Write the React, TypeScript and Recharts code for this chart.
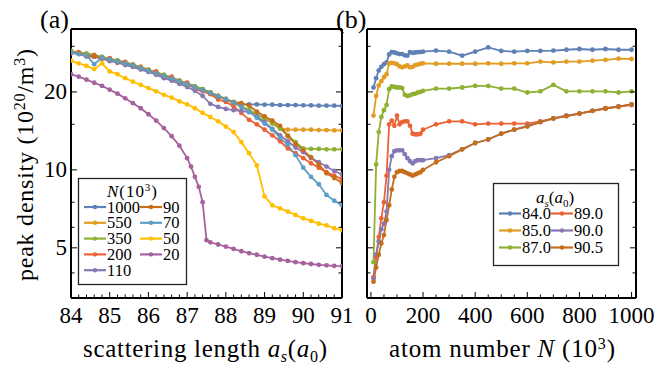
import { Line, LineChart, XAxis, YAxis } from 'recharts'

// panel (a): peak density (10^20/m^3) vs scattering length (a0), one curve per N
const scatLength = [
	84.0, 84.2, 84.4, 84.6, 84.8, 85.0, 85.2, 85.4, 85.6, 85.8, 86.0, 86.2, 86.4, 86.6, 86.8, 87.0, 87.2, 87.4,
	87.6, 87.8, 88.0, 88.2, 88.4, 88.6, 88.8, 89.0, 89.2, 89.4, 89.6, 89.8, 90.0, 90.2, 90.4, 90.6, 90.8, 91.0,
]
// the N = 20 run is sampled finer around its collapse
const scatLength20 = [
	84.0, 84.2, 84.4, 84.6, 84.8, 85.0, 85.2, 85.4, 85.6, 85.8, 86.0, 86.2, 86.4, 86.6, 86.8, 87.0, 87.1, 87.2,
	87.3, 87.4, 87.5, 87.6, 87.8, 88.0, 88.2, 88.4, 88.6, 88.8, 89.0, 89.2, 89.4, 89.6, 89.8, 90.0, 90.2, 90.4,
	90.6, 90.8, 91.0,
]
const n1000 = [
	28.6, 28.3, 28.0, 27.7, 27.3, 26.8, 26.4, 26.0, 25.5, 24.9, 24.3, 23.8, 23.2, 22.7, 22.1, 21.6, 21.0, 20.5,
	19.9, 19.3, 18.8, 18.2, 17.9, 17.9, 17.9, 17.85, 17.85, 17.8, 17.8, 17.8, 17.75, 17.75, 17.7, 17.7, 17.7, 17.65,
]
const n550 = [
	28.5, 28.2, 27.9, 27.5, 27.2, 26.7, 26.3, 25.8, 25.3, 24.8, 24.2, 23.7, 23.1, 22.5, 22.0, 21.4, 20.8, 20.3,
	19.8, 19.2, 18.7, 18.1, 17.6, 17.0, 16.4, 15.8, 15.2, 14.5, 14.3, 14.3, 14.3, 14.3, 14.25, 14.25, 14.2, 14.2,
]
const n350 = [
	28.8, 28.4, 28.2, 27.8, 27.3, 26.9, 26.5, 26.0, 25.5, 25.0, 24.4, 23.8, 23.3, 22.7, 22.1, 21.6, 21.0, 20.5,
	19.9, 19.3, 18.8, 18.2, 17.6, 17.0, 16.4, 15.8, 15.1, 14.4, 13.6, 12.8, 12.1, 12.05, 12.05, 12.0, 12.0, 12.0,
]
const n200 = [
	28.2, 28.5, 27.5, 27.7, 26.9, 27.0, 25.9, 26.1, 25.0, 25.0, 24.0, 24.0, 22.8, 22.9, 21.6, 21.7, 20.5, 20.1,
	19.6, 18.7, 18.3, 17.6, 16.6, 15.6, 15.0, 14.3, 13.6, 12.9, 12.1, 11.6, 11.1, 10.6, 10.2, 9.8, 9.5, 9.2,
]
const n110 = [
	28.3, 28.0, 27.4, 27.3, 26.9, 26.3, 26.0, 25.4, 25.0, 24.4, 23.9, 23.3, 22.6, 22.1, 21.5, 20.9, 20.2, 19.3,
	18.0, 17.5, 17.2, 17.0, 16.9, 16.7, 16.1, 15.3, 14.4, 13.6, 12.9, 12.2, 11.7, 11.1, 10.7, 10.3, 9.9, 9.6,
]
const n90 = [
	28.4, 28.1, 27.7, 27.4, 27.0, 26.6, 26.2, 25.8, 25.3, 24.7, 24.2, 23.6, 23.0, 22.5, 21.9, 21.3, 20.8, 20.3,
	19.7, 19.2, 18.7, 18.3, 18.1, 17.7, 16.8, 16.1, 15.5, 14.8, 13.5, 12.6, 11.9, 11.2, 10.5, 9.7, 9.3, 8.9,
]
const n70 = [
	28.4, 28.0, 27.7, 25.6, 27.1, 26.7, 26.2, 25.8, 25.3, 24.7, 24.1, 23.6, 23.0, 22.5, 21.9, 21.4, 20.8, 20.3,
	19.8, 19.2, 18.7, 18.2, 17.5, 16.8, 15.9, 15.1, 14.3, 13.3, 12.5, 11.4, 10.2, 9.4, 8.8, 8.0, 7.6, 7.3,
]
const n50 = [
	26.4, 25.8, 25.2, 24.5, 25.8, 24.0, 23.4, 22.6, 21.9, 21.3, 20.7, 20.1, 19.5, 19.0, 18.4, 17.9, 17.3, 16.6,
	16.0, 15.4, 14.7, 14.0, 12.8, 11.6, 10.4, 7.9, 7.3, 7.1, 6.9, 6.7, 6.5, 6.35, 6.2, 6.1, 5.95, 5.85,
]
const n20 = [
	23.4, 22.9, 22.3, 21.7, 21.1, 20.4, 19.7, 18.9, 18.1, 17.3, 16.4, 15.5, 14.5, 13.5, 12.4, 11.1, 10.3, 9.4,
	8.6, 7.5, 5.35, 5.25, 5.15, 5.05, 4.95, 4.85, 4.77, 4.7, 4.62, 4.56, 4.5, 4.45, 4.4, 4.36, 4.33, 4.3, 4.28,
	4.26, 4.25,
]

// panel (b): peak density vs atom number N (10^3), one curve per scattering length
const atomNumber = [
	10, 20, 30, 40, 50, 60, 70, 80, 90, 100, 110, 120, 130, 140, 150, 160, 170, 180, 190, 200, 250, 300, 350, 400,
	450, 500, 550, 600, 650, 700, 750, 800, 850, 900, 950, 1000,
]
const as840 = [
	20.8, 22.6, 24.2, 25.0, 25.6, 26.0, 27.9, 28.5, 28.4, 28.2, 28.0, 28.0, 27.7, 27.6, 28.5, 28.3, 28.4, 28.5,
	28.5, 28.6, 28.9, 28.6, 27.6, 28.6, 29.7, 28.8, 28.6, 28.8, 28.8, 28.9, 29.1, 29.3, 29.1, 29.3, 29.1, 29.1,
]
const as850 = [
	16.2, 19.3, 21.2, 22.0, 22.8, 23.4, 25.8, 25.9, 25.8, 25.6, 25.1, 24.9, 25.1, 25.3, 24.9, 25.0, 25.4, 25.5,
	25.7, 25.8, 25.7, 25.7, 25.7, 25.7, 25.8, 25.7, 25.8, 25.8, 26.2, 26.0, 26.2, 26.2, 26.4, 26.6, 26.9, 26.8,
]
const as870 = [
	4.4, 10.5, 14.0, 16.0, 17.0, 17.8, 20.5, 21.0, 20.9, 20.8, 20.8, 20.7, 19.5, 19.3, 19.4, 19.6, 19.7, 19.9,
	20.0, 20.2, 20.6, 20.6, 20.8, 21.1, 21.1, 20.6, 20.6, 19.9, 20.1, 21.3, 20.1, 20.1, 20.1, 20.1, 19.9, 20.1,
]
const as890 = [
	3.85, 4.6, 5.5, 6.5, 7.5, 9.5, 15.0, 15.5, 14.8, 16.2, 15.0, 15.3, 15.4, 15.4, 14.8, 13.8, 13.7, 13.7, 13.8,
	14.3, 15.0, 15.4, 15.4, 15.0, 15.1, 15.1, 15.1, 15.1, 15.4, 15.8, 16.2, 16.5, 16.9, 17.2, 17.6, 17.8,
]
const as900 = [
	3.8, 4.7, 5.3, 5.9, 6.2, 6.9, 10.0, 11.3, 11.8, 11.9, 11.9, 11.9, 11.5, 11.1, 10.8, 10.6, 10.8, 10.9, 10.9,
	10.9, 11.1, 11.4, 12.0, 12.7, 13.1, 13.8, 14.3, 14.8, 15.3, 15.8, 16.2, 16.5, 16.9, 17.3, 17.6, 17.9,
]
const as905 = [
	3.7, 4.2, 4.7, 5.2, 5.6, 6.4, 7.3, 8.4, 9.4, 9.8, 9.9, 9.9, 9.8, 9.7, 9.6, 9.5, 9.6, 9.7, 9.8, 10.0, 10.7,
	11.3, 12.0, 12.7, 13.1, 13.8, 14.3, 14.7, 15.3, 15.8, 16.1, 16.5, 16.9, 17.3, 17.5, 17.9,
]

const seriesA = [
	{ name: '1000', color: '#5E81B5', xs: scatLength, ys: n1000 },
	{ name: '550', color: '#E19C24', xs: scatLength, ys: n550 },
	{ name: '350', color: '#8FB032', xs: scatLength, ys: n350 },
	{ name: '200', color: '#EB6235', xs: scatLength, ys: n200 },
	{ name: '110', color: '#8778B3', xs: scatLength, ys: n110 },
	{ name: '90', color: '#C56E1A', xs: scatLength, ys: n90 },
	{ name: '70', color: '#5D9EC7', xs: scatLength, ys: n70 },
	{ name: '50', color: '#FFBF00', xs: scatLength, ys: n50 },
	{ name: '20', color: '#A5609D', xs: scatLength20, ys: n20 },
]
const seriesB = [
	{ name: '84.0', color: '#5E81B5', xs: atomNumber, ys: as840 },
	{ name: '85.0', color: '#E19C24', xs: atomNumber, ys: as850 },
	{ name: '87.0', color: '#8FB032', xs: atomNumber, ys: as870 },
	{ name: '89.0', color: '#EB6235', xs: atomNumber, ys: as890 },
	{ name: '90.0', color: '#8778B3', xs: atomNumber, ys: as900 },
	{ name: '90.5', color: '#C56E1A', xs: atomNumber, ys: as905 },
]

const xLabelsA = [84, 85, 86, 87, 88, 89, 90, 91]
const xLabelsB = [0, 200, 400, 600, 800, 1000]
const yLabels = [5, 10, 20]
const yTicks = [4, 5, 6, 7.5, 10, 15, 20, 30]
const xTicksA = Array.from({ length: 36 }, (_, i) => Math.round((84 + i * 0.2) * 10) / 10)
const xTicksB = Array.from({ length: 21 }, (_, i) => i * 50)

const FONT = "'Liberation Serif', 'Times New Roman', serif"
const frame = { stroke: '#000', strokeWidth: 2 }
const rows = (xs: number[], ys: number[]) => xs.map((x, i) => ({ x, y: ys[i] }))

type Side = 'bottom' | 'top' | 'left' | 'right'

// Mathematica-like frame ticks: pointing inward, labels only on majors
const frameTick = (side: Side, majors: number[], labels: boolean) => (props: any) => {
	const { x, y, payload } = props
	const v = payload.value
	const major = majors.some((m) => Math.abs(m - v) < 1e-6)
	const len = major ? 6 : 3.5
	let d = ''
	if (side === 'bottom') d = `M${x},${y}V${y - len}`
	if (side === 'top') d = `M${x},${y}V${y + len}`
	if (side === 'left') d = `M${x},${y}H${x + len}`
	if (side === 'right') d = `M${x},${y}H${x - len}`
	return (
		<g>
			<path d={d} stroke='#000' strokeWidth={1} />
			{labels && major && side === 'bottom' && (
				<text x={x} y={y + 25} textAnchor='middle' fontFamily={FONT} fontSize={23} fill='#000'>
					{v}
				</text>
			)}
			{labels && major && side === 'left' && (
				<text x={x - 4} y={y + 7.5} textAnchor='end' fontFamily={FONT} fontSize={23} fill='#000'>
					{v}
				</text>
			)}
		</g>
	)
}

const axisCommon = {
	type: 'number' as const,
	allowDataOverflow: true,
	interval: 0 as const,
	tickSize: 0,
	tickMargin: 0,
	tickLine: false,
	axisLine: frame,
}

const Panel = ({
	series,
	width,
	left,
	right,
	xDomain,
	xTicks,
	xLabels,
	showY,
}: {
	series: typeof seriesA
	width: number
	left: number
	right: number
	xDomain: number[]
	xTicks: number[]
	xLabels: number[]
	showY: boolean
}) => (
	<LineChart width={width} height={367} margin={{ top: 28, right, bottom: 0, left: 0 }}>
		<XAxis {...axisCommon} dataKey='x' domain={xDomain} ticks={xTicks} height={69} tick={frameTick('bottom', xLabels, true)} />
		<XAxis {...axisCommon} xAxisId='top' orientation='top' domain={xDomain} ticks={xTicks} height={1} tick={frameTick('top', xLabels, false)} />
		<YAxis {...axisCommon} scale='log' domain={[3.2, 35]} ticks={yTicks} width={left} tick={frameTick('left', yLabels, showY)} />
		<YAxis {...axisCommon} yAxisId='right' orientation='right' scale='log' domain={[3.2, 35]} ticks={yTicks} width={1} tick={frameTick('right', yLabels, false)} />
		{series.map((s) => (
			<Line
				key={s.name}
				data={rows(s.xs, s.ys)}
				dataKey='y'
				name={s.name}
				stroke={s.color}
				strokeWidth={1.8}
				dot={{ r: 2.4, fill: s.color, stroke: 'none' }}
				isAnimationActive={false}
			/>
		))}
	</LineChart>
)

const LegendItem = ({ x, y, color, text }: { x: number; y: number; color: string; text: string }) => (
	<g>
		<line x1={x} y1={y} x2={x + 22} y2={y} stroke={color} strokeWidth={2.2} />
		<circle cx={x + 11} cy={y} r={2.2} fill={color} />
		<text x={x + 23} y={y + 5.6} fontSize={16.5}>
			{text}
		</text>
	</g>
)

const Overlay = () => (
	<svg width={656} height={367} style={{ position: 'absolute', left: 0, top: 0, pointerEvents: 'none' }} fontFamily={FONT} fill='#000'>
		<text x={40} y={28} fontSize={26}>(a)</text>
		<text x={336} y={28} fontSize={26}>(b)</text>
		<text transform='translate(33,165) rotate(-90)' textAnchor='middle' fontSize={24} textLength={232} lengthAdjust='spacing'>
			peak density (10<tspan dy={-8} fontSize={16}>20</tspan>
			<tspan dy={8}>/m</tspan>
			<tspan dy={-8} fontSize={16}>3</tspan>
			<tspan dy={8}>)</tspan>
		</text>
		<text x={205} y={357} textAnchor='middle' fontSize={25} textLength={244} lengthAdjust='spacing'>
			scattering length <tspan fontStyle='italic'>a</tspan>
			<tspan dy={5} fontSize={16} fontStyle='italic'>s</tspan>
			<tspan dy={-5}>(</tspan>
			<tspan fontStyle='italic'>a</tspan>
			<tspan dy={5} fontSize={16}>0</tspan>
			<tspan dy={-5}>)</tspan>
		</text>
		<text x={502} y={357} textAnchor='middle' fontSize={25} textLength={226} lengthAdjust='spacing'>
			atom number <tspan fontStyle='italic'>N</tspan> (10<tspan dy={-8} fontSize={16}>3</tspan>
			<tspan dy={8}>)</tspan>
		</text>

		<rect x={78.5} y={178.5} width={108} height={106} fill='#fff' stroke='#222' strokeWidth={1.3} />
		<text x={132} y={197} textAnchor='middle' fontSize={17} textLength={50} lengthAdjust='spacing'>
			<tspan fontStyle='italic'>N</tspan>(10<tspan dy={-6} fontSize={11}>3</tspan>
			<tspan dy={6}>)</tspan>
		</text>
		{seriesA.map((s, i) => (
			<LegendItem key={s.name} x={i < 5 ? 84 : 140} y={207 + (i < 5 ? i : i - 5) * 15.8} color={s.color} text={s.name} />
		))}

		<rect x={493.5} y={183.5} width={125} height={82} fill='#fff' stroke='#222' strokeWidth={1.3} />
		<text x={555} y={203} textAnchor='middle' fontSize={17}>
			<tspan fontStyle='italic'>a</tspan>
			<tspan dy={4} fontSize={11} fontStyle='italic'>s</tspan>
			<tspan dy={-4}>(</tspan>
			<tspan fontStyle='italic'>a</tspan>
			<tspan dy={4} fontSize={11}>0</tspan>
			<tspan dy={-4}>)</tspan>
		</text>
		{seriesB.map((s, i) => (
			<LegendItem key={s.name} x={i < 3 ? 499 : 551} y={213.5 + (i < 3 ? i : i - 3) * 17} color={s.color} text={s.name} />
		))}
	</svg>
)

const App = () => {
	return (
		<div style={{ position: 'absolute', left: 0, top: 0, width: 656, height: 367, background: '#fff' }}>
			<div style={{ position: 'absolute', left: 0, top: 0 }}>
				<Panel series={seriesA} width={356} left={71} right={13} xDomain={[84, 91]} xTicks={xTicksA} xLabels={xLabelsA} showY />
			</div>
			<div style={{ position: 'absolute', left: 356, top: 0 }}>
				<Panel series={seriesB} width={300} left={11} right={19} xDomain={[-15, 1017]} xTicks={xTicksB} xLabels={xLabelsB} showY={false} />
			</div>
			<Overlay />
		</div>
	)
}

export default App
